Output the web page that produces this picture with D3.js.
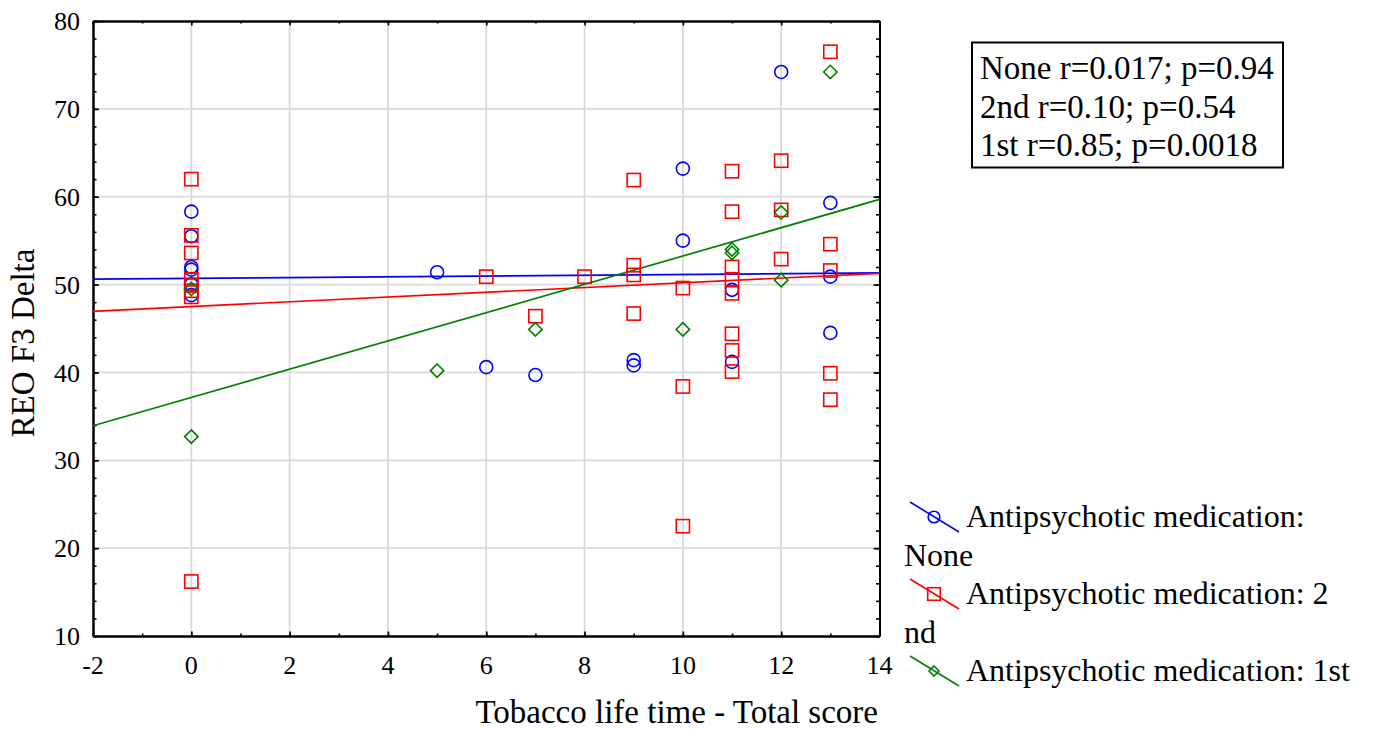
<!DOCTYPE html>
<html>
<head>
<meta charset="utf-8">
<script src="https://cdn.jsdelivr.net/npm/d3@7"></script>
<style>
  body { margin: 0; background: #fff; }
  svg { display: block; font-family: "Liberation Serif", "Times New Roman", serif; }
  .grid line { stroke: #d9d9d9; stroke-width: 1.8; }
  .tick-label { font-size: 26px; fill: #000; }
  .title { font-size: 33px; fill: #000; }
  .legend-text { font-size: 32px; fill: #000; }
  .stat-text { font-size: 33px; fill: #000; }
</style>
</head>
<body>
<div id="chart"></div>
<script>
// data
var seriesNames = ["None", "2nd", "1st"];
var seriesColors = ["#0000ff", "#ff0000", "#008000"];
var seriesShapes = ["circle", "square", "diamond"];

var noneX = [0, 0, 0, 0, 0, 0, 5, 6, 7, 9, 9, 10, 10, 11, 11, 12, 13, 13, 13];
var noneY = [58.3, 55.5, 52.0, 51.7, 50.0, 48.8, 51.4, 40.6, 39.7, 41.4, 40.8, 63.2, 55.0, 49.4, 41.2, 74.2, 59.3, 50.9, 44.5];

var secondX = [0, 0, 0, 0, 0, 0, 0, 0, 6, 7, 8, 9, 9, 9, 9, 10, 10, 10, 11, 11, 11, 11, 11, 11, 11, 11, 12, 12, 12, 13, 13, 13, 13, 13];
var secondY = [62.0, 55.6, 53.6, 50.6, 49.9, 49.3, 48.6, 16.2, 50.9, 46.4, 50.9, 61.9, 52.2, 51.1, 46.7, 49.6, 38.4, 22.5, 62.9, 58.3, 52.0, 50.6, 49.0, 44.4, 42.5, 40.1, 64.1, 58.5, 52.9, 76.5, 54.6, 51.6, 39.9, 36.9];

var firstX = [0, 0, 5, 7, 10, 11, 11, 12, 12, 13];
var firstY = [49.5, 32.7, 40.2, 44.9, 44.9, 54.0, 53.6, 58.2, 50.5, 74.2];

// fitted lines as drawn (intercept at x=0, slope)
var fitIntercepts = [50.7, 47.5, 37.15];
var fitSlopes = [0.045, 0.27, 1.61];

var statLines = ["None r=0.017; p=0.94", "2nd r=0.10; p=0.54", "1st r=0.85; p=0.0018"];
var legendLines = [["Antipsychotic medication:", "None"], ["Antipsychotic medication: 2", "nd"], ["Antipsychotic medication: 1st"]];

var xTicks = [-2, 0, 2, 4, 6, 8, 10, 12, 14];
var yTicks = [10, 20, 30, 40, 50, 60, 70, 80];

var width = 1375, height = 731;
var svg = d3.select("#chart").append("svg").attr("width", width).attr("height", height);

var x = d3.scaleLinear().domain([-2, 14]).range([93, 879.5]);
var y = d3.scaleLinear().domain([10, 80]).range([636, 21]);

// grid
var grid = svg.append("g").attr("class", "grid");
grid.selectAll(".gx").data(xTicks.slice(1, -1)).enter().append("line")
  .attr("x1", function(d) { return x(d); }).attr("x2", function(d) { return x(d); })
  .attr("y1", y(80)).attr("y2", y(10));
grid.selectAll(".gy").data(yTicks.slice(1, -1)).enter().append("line")
  .attr("y1", function(d) { return y(d); }).attr("y2", function(d) { return y(d); })
  .attr("x1", x(-2)).attr("x2", x(14));

// axes, ticks inward on all sides
function addAxis(axis, tx, ty) {
  var g = svg.append("g").attr("transform", "translate(" + tx + "," + ty + ")").call(axis);
  g.selectAll("text").remove();
  g.select(".domain").attr("stroke-width", 2);
  g.selectAll(".tick line").attr("stroke-width", 1.6);
  return g;
}
var xMinor = d3.range(-2, 14.01, 1), yMinor = d3.range(10, 80.01, 2);
addAxis(d3.axisBottom(x).tickValues(xMinor).tickSize(-2.5).tickSizeOuter(0), 0, y(10));
addAxis(d3.axisBottom(x).tickValues(xTicks).tickSize(-4.5).tickSizeOuter(0), 0, y(10));
addAxis(d3.axisTop(x).tickValues(xMinor).tickSize(-2.5).tickSizeOuter(0), 0, y(80));
addAxis(d3.axisTop(x).tickValues(xTicks).tickSize(-4.5).tickSizeOuter(0), 0, y(80));
addAxis(d3.axisLeft(y).tickValues(yMinor).tickSize(-3.5).tickSizeOuter(0), x(-2), 0);
addAxis(d3.axisLeft(y).tickValues(yTicks).tickSize(-6).tickSizeOuter(0), x(-2), 0);
addAxis(d3.axisRight(y).tickValues(yMinor).tickSize(-3.5).tickSizeOuter(0), x(14), 0);
addAxis(d3.axisRight(y).tickValues(yTicks).tickSize(-6).tickSizeOuter(0), x(14), 0);

// tick labels
svg.selectAll(".xl").data(xTicks).enter().append("text")
  .attr("class", "tick-label").attr("text-anchor", "middle")
  .attr("x", function(d) { return x(d); }).attr("y", 674)
  .text(function(d) { return d; });
svg.selectAll(".yl").data(yTicks).enter().append("text")
  .attr("class", "tick-label").attr("text-anchor", "end")
  .attr("x", 80).attr("y", function(d) { return y(d); }).attr("dy", "0.35em")
  .text(function(d) { return d; });

// axis titles
svg.append("text").attr("class", "title").attr("text-anchor", "end")
  .attr("x", 878).attr("y", 723).text("Tobacco life time - Total score");
svg.append("text").attr("class", "title").attr("text-anchor", "middle")
  .attr("transform", "translate(34,343) rotate(-90)").text("REO F3 Delta");

// fit lines
var plot = svg.append("g");
plot.selectAll(".fit").data(fitIntercepts).enter().append("line")
  .attr("x1", x(-2)).attr("x2", x(14))
  .attr("y1", function(d, i) { return y(d + fitSlopes[i] * -2); })
  .attr("y2", function(d, i) { return y(d + fitSlopes[i] * 14); })
  .attr("stroke", function(d, i) { return seriesColors[i]; })
  .attr("stroke-width", 1.7);

// markers
function marker(g, shape, cx, cy, s, color) {
  if (shape === "circle") {
    g.append("circle").attr("cx", cx).attr("cy", cy).attr("r", s)
      .attr("fill", "none").attr("stroke", color).attr("stroke-width", 1.6);
  } else if (shape === "square") {
    g.append("rect").attr("x", cx - s).attr("y", cy - s).attr("width", 2 * s).attr("height", 2 * s)
      .attr("fill", "none").attr("stroke", color).attr("stroke-width", 1.6);
  } else {
    g.append("path").attr("d", "M" + cx + "," + (cy - s) + "L" + (cx + s) + "," + cy + "L" + cx + "," + (cy + s) + "L" + (cx - s) + "," + cy + "Z")
      .attr("fill", "none").attr("stroke", color).attr("stroke-width", 1.6);
  }
}
var seriesX = [noneX, secondX, firstX], seriesY = [noneY, secondY, firstY];
var markerSize = [6.5, 6.6, 6.7];
seriesX.forEach(function(xs, i) {
  var g = plot.append("g");
  xs.forEach(function(v, j) {
    marker(g, seriesShapes[i], x(v), y(seriesY[i][j]), markerSize[i], seriesColors[i]);
  });
});

// stats box
svg.append("rect").attr("x", 972).attr("y", 42.5).attr("width", 311).attr("height", 125)
  .attr("fill", "#fff").attr("stroke", "#000").attr("stroke-width", 2);
svg.selectAll(".stat").data(statLines).enter().append("text")
  .attr("class", "stat-text").attr("x", 980).attr("y", function(d, i) { return 79 + i * 38.5; })
  .text(function(d) { return d; });

// legend
var legBase = [527, 604, 681];
var legMarker = [5.8, 6.3, 5];
legendLines.forEach(function(lines, i) {
  var b = legBase[i];
  var g = svg.append("g");
  g.append("line").attr("x1", 910).attr("x2", 959).attr("y1", b - 25).attr("y2", b + 5)
    .attr("stroke", seriesColors[i]).attr("stroke-width", 1.6);
  marker(g, seriesShapes[i], 934, b - 10, legMarker[i], seriesColors[i]);
  g.append("text").attr("class", "legend-text").attr("x", 966).attr("y", b).text(lines[0]);
  if (lines[1]) {
    g.append("text").attr("class", "legend-text").attr("x", 904).attr("y", b + 38.5).text(lines[1]);
  }
});
</script>
</body>
</html>
